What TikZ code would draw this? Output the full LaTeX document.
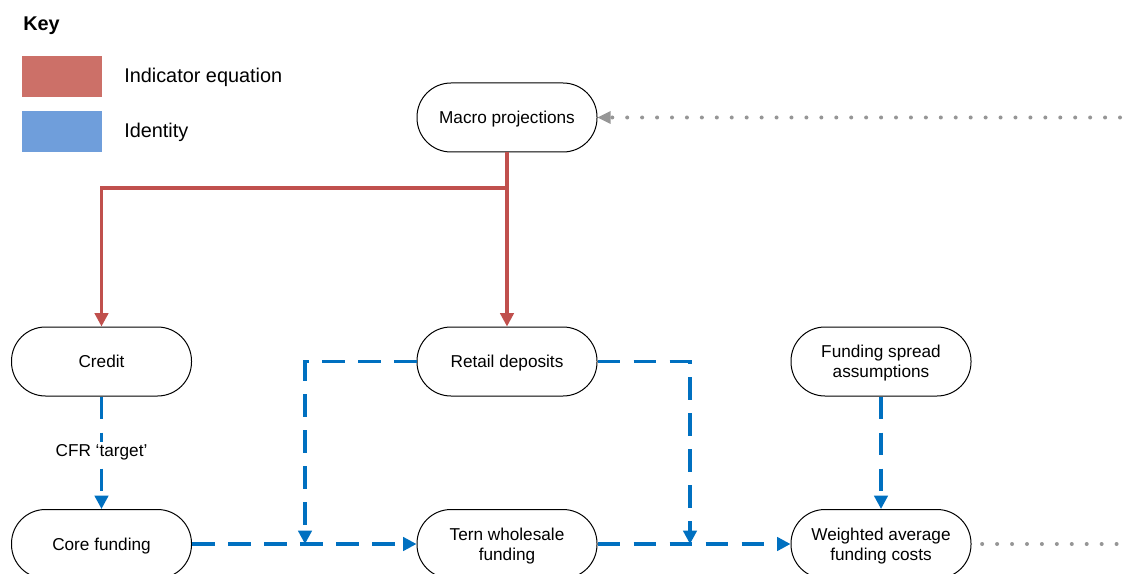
\documentclass[tikz,border=0pt]{standalone}
\usepackage{fontspec}
\setmainfont{Liberation Sans}
\usetikzlibrary{arrows.meta}
\definecolor{eqred}{RGB}{192,80,77}
\definecolor{idblue}{RGB}{0,112,192}
\definecolor{keyred}{RGB}{204,112,104}
\definecolor{keyblue}{RGB}{111,158,219}
\definecolor{dotgrey}{RGB}{150,150,150}
\tikzset{
  block/.style={draw=black, line width=0.75pt, rounded corners=25.5pt, minimum width=135pt,
    minimum height=51.75pt, align=center, font=\fontsize{12.9}{15}\selectfont, inner sep=2pt,
    text depth=0pt},
  keybox/.style={minimum width=60pt, minimum height=30.75pt, inner sep=0pt},
  keytext/.style={anchor=west, font=\fontsize{14.9}{17}\selectfont, inner sep=0pt},
  eqline/.style={draw=eqred, line width=2.4pt, -{Triangle[length=10pt,width=10pt]}},
  idline/.style={draw=idblue, line width=2.4pt, dash pattern=on 17pt off 10pt,
    -{Triangle[length=10pt,width=10pt]}},
  dotline/.style={draw=dotgrey, line width=3pt, line cap=round, dash pattern=on 0pt off 11.2pt}
}
\begin{document}
\begin{tikzpicture}[x=0.75pt, y=-0.75pt]
            \useasboundingbox (0,0) rectangle (1127,574);
            % key
            \node[anchor=west, inner sep=0pt, font=\fontsize{14.9}{17}\selectfont\bfseries] (key) at (23,26) {Key};
            \node[keybox, fill=keyred] (keyeq) at (62,76.5) {};
            \node[keybox, fill=keyblue] (keyid) at (62,131.5) {};
            \node[keytext] (keyeqtext) at (124,77) {Indicator equation};
            \node[keytext] (keyidtext) at (124,132) {Identity};
            % blocks
            \node[block] (macro) at (507,117.5) {Macro projections};
            \node[block] (credit) at (101.5,361.5) {Credit};
            \node[block] (retail) at (507,361.5) {Retail deposits};
            \node[block] (spread) at (881,361.5) {Funding spread\\assumptions};
            \node[block] (core) at (101.5,544) {Core funding};
            \node[block] (tern) at (507,544) {Tern wholesale\\funding};
            \node[block] (wafc) at (881,544) {Weighted average\\funding costs};
            % junctions
            \coordinate (split) at (507,188);
            \coordinate (joinl) at (305,544);
            \coordinate (joinr) at (690,544);
            \coordinate (extin) at (1120,117.5);
            \coordinate (extout) at (1127,544);
            % indicator equations
            \draw[eqline] (macro) -- (retail);
            \draw[eqline] (split) -| (credit);
            % identities
            \draw[idline] (credit) -- node[fill=white, inner sep=2pt, font=\fontsize{12.9}{15}\selectfont] (cfr) {CFR `target'} (core);
            \draw[idline] (core) -- (tern);
            \draw[idline] (retail) -| (joinl);
            \draw[idline] (retail) -| (joinr);
            \draw[idline] (tern) -- (wafc);
            \draw[idline] (spread) -- (wafc);
            % outside links
            \draw[dotline] (extin) -- ([xshift=10pt]macro.east);
            \draw[dotgrey, draw=none, fill=dotgrey] (macro.east) -- ++(13,-6.5) -- ++(0,13) -- cycle;
            \draw[dotline] ([xshift=8pt]wafc.east) -- (extout);
\end{tikzpicture}
\end{document}
